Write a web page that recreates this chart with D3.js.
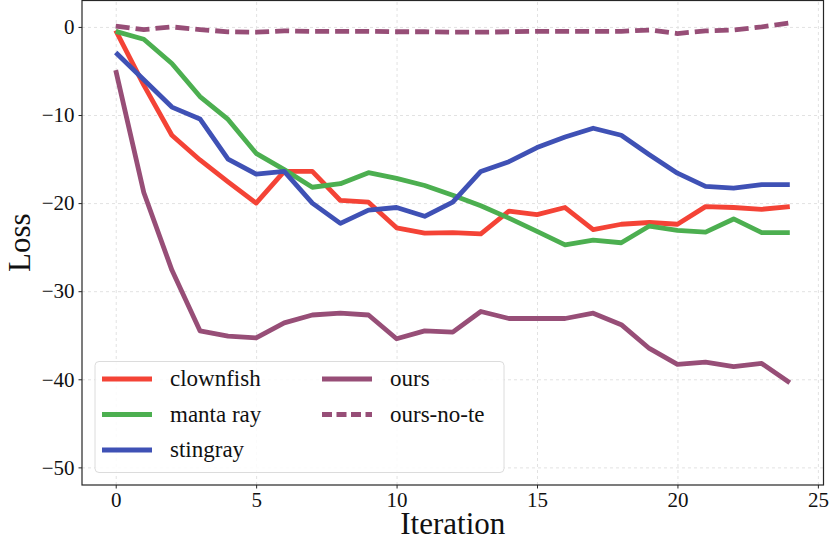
<!DOCTYPE html>
<html>
<head>
<meta charset="utf-8">
<script src="https://cdn.jsdelivr.net/npm/d3@7"></script>
<style>
    body { margin: 0; background: #fff; }
    svg { display: block; }
    .tick text { font-family: "Liberation Serif", serif; fill: #111; }
    .tick line { stroke: #262626; stroke-width: 1; }
    .grid .tick line { stroke: #e2e2e2; stroke-dasharray: 3,3; }
    .grid .domain { display: none; }
</style>
</head>
<body>
<div id="chart"></div>
<script>
    // iteration index 0..24
    var iterations = d3.range(0, 25);
    var clownfish = [-0.4, -6.6, -12.3, -15.1, -17.6, -20.0, -16.4, -16.4, -19.7, -19.9, -22.8, -23.4, -23.35, -23.5, -20.9, -21.3, -20.5, -23.0, -22.4, -22.2, -22.4, -20.4, -20.5, -20.7, -20.4];
    var mantaRay = [-0.5, -1.4, -4.15, -7.9, -10.5, -14.35, -16.2, -18.2, -17.8, -16.55, -17.2, -18.0, -19.1, -20.3, -21.7, -23.2, -24.75, -24.2, -24.5, -22.6, -23.1, -23.3, -21.8, -23.35, -23.35];
    var stingray = [-2.9, -6.0, -9.1, -10.45, -15.0, -16.7, -16.4, -20.0, -22.3, -20.8, -20.5, -21.5, -19.9, -16.4, -15.3, -13.7, -12.5, -11.5, -12.3, -14.5, -16.6, -18.1, -18.3, -17.9, -17.9];
    var ours = [-4.9, -18.8, -27.6, -34.5, -35.1, -35.3, -33.6, -32.7, -32.5, -32.7, -35.4, -34.5, -34.65, -32.3, -33.1, -33.1, -33.1, -32.5, -33.8, -36.5, -38.3, -38.05, -38.55, -38.2, -40.4];
    var oursNoTe = [0.1, -0.3, 0.0, -0.3, -0.55, -0.6, -0.45, -0.5, -0.5, -0.5, -0.55, -0.55, -0.6, -0.6, -0.55, -0.5, -0.5, -0.5, -0.5, -0.35, -0.75, -0.45, -0.35, 0.0, 0.45];

    var xTicks = [0, 5, 10, 15, 20, 25];
    var yTicks = [0, -10, -20, -30, -40, -50];

    var series = [
        {name: "clownfish", values: clownfish, color: "#f44336", dash: null, col: 0, row: 0},
        {name: "manta ray", values: mantaRay, color: "#4caf50", dash: null, col: 0, row: 1},
        {name: "stingray", values: stingray, color: "#3f51b5", dash: null, col: 0, row: 2},
        {name: "ours", values: ours, color: "#974e77", dash: null, col: 1, row: 0},
        {name: "ours-no-te", values: oursNoTe, color: "#974e77", dash: "14,6", col: 1, row: 1}
    ];

    var W = 830, H = 541;
    var pLeft = 82, pRight = 823.5, pTop = 0.5, pBottom = 485;

    var svg = d3.select("#chart").append("svg")
        .attr("width", W)
        .attr("height", H);

    var x = d3.scaleLinear().domain([-1.2, 25.2]).range([pLeft, pRight]);
    var y = d3.scaleLinear().domain([-52, 3]).range([pBottom, pTop]);

    // grid
    svg.append("g")
        .attr("class", "grid")
        .attr("transform", "translate(0," + pBottom + ")")
        .call(d3.axisBottom(x).tickValues(xTicks).tickSize(-(pBottom - pTop)).tickFormat(""));
    svg.append("g")
        .attr("class", "grid")
        .attr("transform", "translate(" + pLeft + ",0)")
        .call(d3.axisLeft(y).tickValues(yTicks).tickSize(-(pRight - pLeft)).tickFormat(""));

    // lines
    var line = d3.line()
        .x(function(d, i){ return x(iterations[i]); })
        .y(function(d){ return y(d); });

    series.forEach(function(s){
        svg.append("path")
            .datum(s.values)
            .attr("d", line)
            .attr("fill", "none")
            .attr("stroke", s.color)
            .attr("stroke-width", 4.8)
            .attr("stroke-linejoin", "round")
            .attr("stroke-dasharray", s.dash);
    });

    // axes
    var fmt = function(d){ return d < 0 ? "\u2212" + Math.abs(d) : d; };
    var xAxis = svg.append("g")
        .attr("transform", "translate(0," + pBottom + ")")
        .call(d3.axisBottom(x).tickValues(xTicks).tickSize(3.5).tickPadding(3.5));
    xAxis.select(".domain").remove();
    xAxis.selectAll("text").attr("font-size", 21);

    var yAxis = svg.append("g")
        .attr("transform", "translate(" + pLeft + ",0)")
        .call(d3.axisLeft(y).tickValues(yTicks).tickSize(3.5).tickPadding(4).tickFormat(fmt));
    yAxis.select(".domain").remove();
    yAxis.selectAll("text").attr("font-size", 21);

    // frame
    svg.append("rect")
        .attr("x", pLeft)
        .attr("y", pTop)
        .attr("width", pRight - pLeft)
        .attr("height", pBottom - pTop)
        .attr("fill", "none")
        .attr("stroke", "#262626")
        .attr("stroke-width", 1.2);

    // axis labels
    svg.append("text")
        .attr("x", (pLeft + pRight) / 2)
        .attr("y", 534)
        .attr("text-anchor", "middle")
        .attr("font-family", "Liberation Serif, serif")
        .attr("font-size", 31)
        .attr("fill", "#111")
        .text("Iteration");
    svg.append("text")
        .attr("transform", "translate(29.5," + ((pTop + pBottom) / 2) + ") rotate(-90)")
        .attr("text-anchor", "middle")
        .attr("font-family", "Liberation Serif, serif")
        .attr("font-size", 31)
        .attr("fill", "#111")
        .text("Loss");

    // legend
    var legend = svg.append("g");
    legend.append("rect")
        .attr("x", 95)
        .attr("y", 361.5)
        .attr("width", 409)
        .attr("height", 111)
        .attr("rx", 4)
        .attr("fill", "#fff")
        .attr("fill-opacity", 0.85)
        .attr("stroke", "#dcdcdc")
        .attr("stroke-width", 1);

    var colX = [102, 322];
    series.forEach(function(s){
        var ly = 379 + s.row * 35.5;
        var lx = colX[s.col];
        legend.append("line")
            .attr("x1", lx)
            .attr("x2", lx + 50)
            .attr("y1", ly)
            .attr("y2", ly)
            .attr("stroke", s.color)
            .attr("stroke-width", 4.8)
            .attr("stroke-dasharray", s.dash ? "10,4.5" : null);
        legend.append("text")
            .attr("x", lx + 68)
            .attr("y", ly + 7)
            .attr("font-family", "Liberation Serif, serif")
            .attr("font-size", 23)
            .attr("fill", "#111")
            .text(s.name);
    });
</script>
</body>
</html>
